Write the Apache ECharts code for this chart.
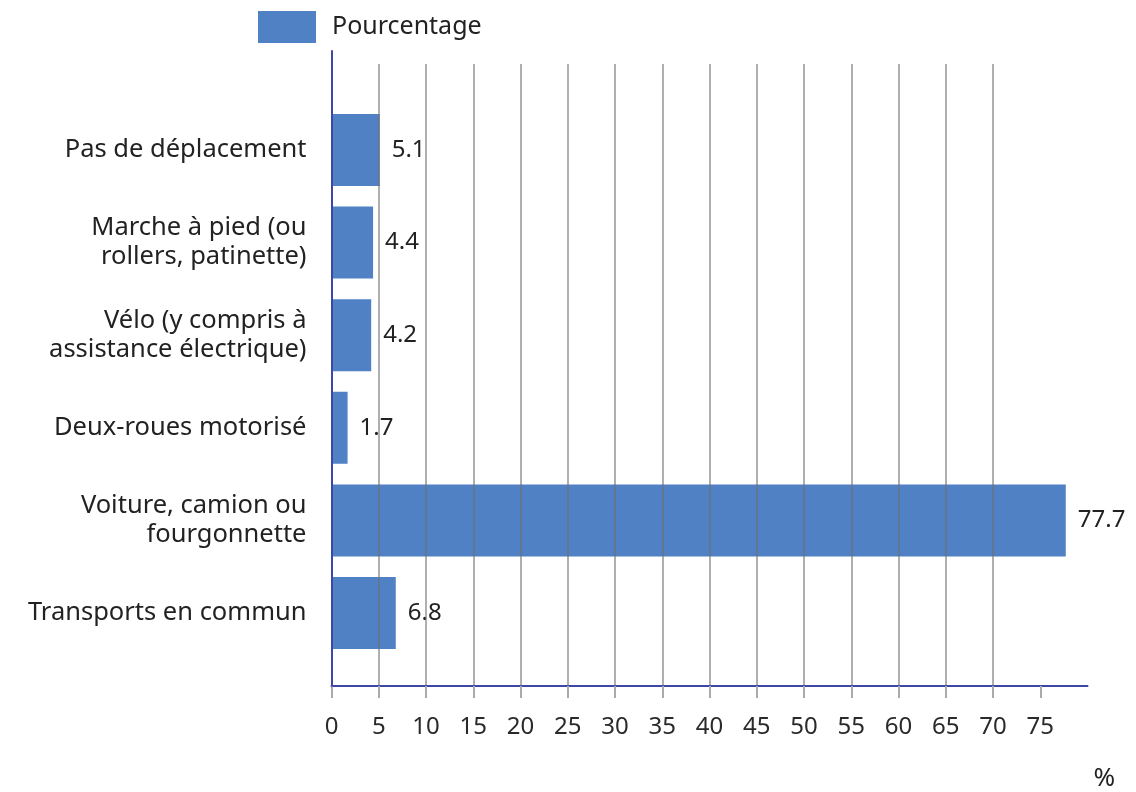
<!DOCTYPE html>
<html>
<head>
<meta charset="utf-8">
<title>Pourcentage</title>
<script src="https://cdn.jsdelivr.net/npm/echarts@6/dist/echarts.min.js"></script>
<style>
    html, body { margin: 0; padding: 0; background: #fff; }
    #chart { width: 1136px; height: 792px; }
</style>
</head>
<body>
<div id="chart"></div>
<script>
var categories = [
    'Pas de déplacement',
    'Marche à pied (ou\nrollers, patinette)',
    'Vélo (y compris à\nassistance électrique)',
    'Deux-roues motorisé',
    'Voiture, camion ou\nfourgonnette',
    'Transports en commun'
];
var values = [5.1, 4.4, 4.2, 1.7, 77.7, 6.8];
var xTicks = [0, 5, 10, 15, 20, 25, 30, 35, 40, 45, 50, 55, 60, 65, 70, 75];
var seriesName = 'Pourcentage';
var unitLabel = '%';

var FONT = '"Noto Sans", "Open Sans", sans-serif';
var AXIS_BLUE = '#3d48a5';

initChart();

function initChart() {
    var chart = echarts.init(document.getElementById('chart'), null, {renderer: 'canvas'});
    chart.setOption(genOption());
    window.onresize = function () {
        chart.resize();
    };
}

function genOption() {
    var left = 331.5, right = 48.5;
    return {
        animation: false,
        backgroundColor: '#fff',
        textStyle: {fontFamily: FONT},
        legend: {
            data: [seriesName],
            left: 253,
            top: 6,
            icon: 'rect',
            itemWidth: 58,
            itemHeight: 32,
            textStyle: {fontSize: 25, color: '#222', fontFamily: FONT, padding: [7, 0, 0, 11]}
        },
        grid: [
            // gridlines + x axis
            {left: left, right: right, top: 64, bottom: 106},
            // bars + category labels
            {left: left, right: right, top: 103.7, bottom: 132.7},
            // y axis line only
            {left: left, right: right, top: 51, bottom: 106}
        ],
        xAxis: [{
            gridIndex: 0,
            type: 'value',
            min: 0,
            max: 80,
            interval: 5,
            z: 5,
            name: unitLabel,
            nameLocation: 'end',
            nameGap: 6,
            nameTextStyle: {
                fontSize: 26, color: '#222', fontFamily: FONT,
                align: 'left', verticalAlign: 'top', padding: [80, 0, 0, 0]
            },
            axisLine: {show: true, lineStyle: {color: AXIS_BLUE, width: 2}},
            axisTick: {show: true, length: 12, customValues: xTicks, lineStyle: {color: '#aaa', width: 2}},
            axisLabel: {customValues: xTicks, fontSize: 24, color: '#2a2a2a', margin: 29, fontFamily: FONT},
            splitLine: {
                show: true,
                showMinLine: false,
                showMaxLine: false,
                lineStyle: {color: 'rgba(110,110,110,0.55)', width: 2}
            }
        }, {
            gridIndex: 1,
            type: 'value',
            min: 0,
            max: 80,
            show: false
        }, {
            gridIndex: 2,
            type: 'value',
            min: 0,
            max: 80,
            show: false
        }],
        yAxis: [{
            gridIndex: 0,
            type: 'category',
            data: categories,
            show: false
        }, {
            gridIndex: 1,
            type: 'category',
            data: categories,
            inverse: true,
            axisLine: {show: false},
            axisTick: {show: false},
            axisLabel: {
                fontSize: 25.5,
                lineHeight: 29,
                color: '#222',
                margin: 25,
                fontFamily: FONT,
                align: 'right'
            }
        }, {
            gridIndex: 2,
            type: 'category',
            data: categories,
            z: 6,
            axisLine: {show: true, lineStyle: {color: AXIS_BLUE, width: 2}},
            axisTick: {show: false},
            axisLabel: {show: false}
        }],
        series: [{
            name: seriesName,
            type: 'bar',
            xAxisIndex: 1,
            yAxisIndex: 1,
            data: values,
            barWidth: 72,
            z: 2,
            itemStyle: {color: '#4f81c4'},
            label: {
                show: true,
                position: 'right',
                distance: 12,
                fontSize: 24,
                color: '#222',
                fontFamily: FONT,
                padding: [4, 0, 0, 0]
            }
        }]
    };
}
</script>
</body>
</html>
